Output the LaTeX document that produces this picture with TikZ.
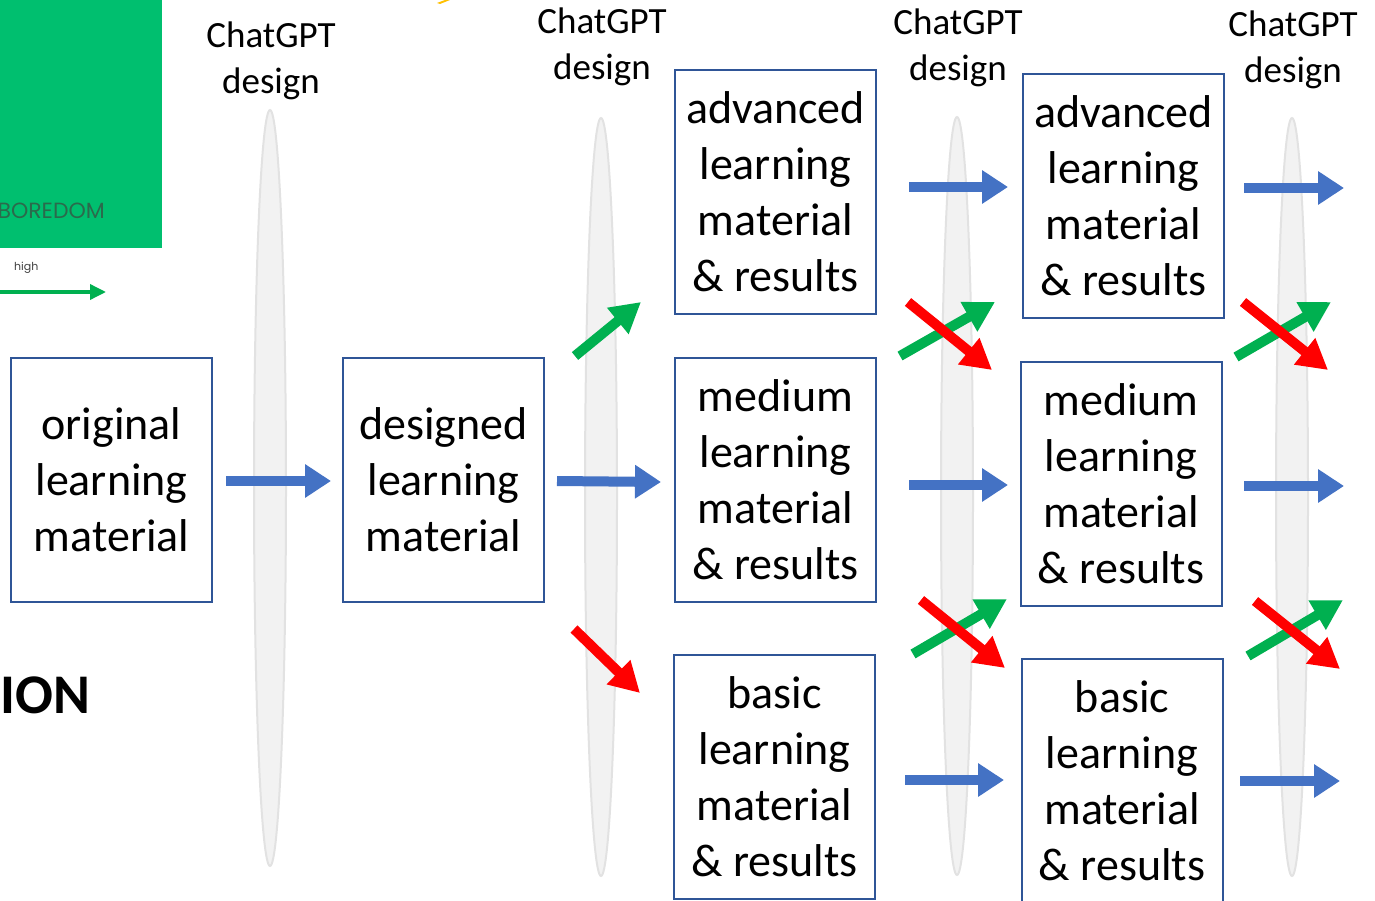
\documentclass[tikz,border=0pt]{standalone}
\usepackage{fontspec}
\setmainfont{Carlito}
\newfontfamily\popfont{Poppins}
\usetikzlibrary{arrows.meta}
\definecolor{boxblue}{HTML}{2F5597}
\definecolor{arrblue}{HTML}{4472C4}
\definecolor{arrgreen}{HTML}{00B050}
\definecolor{arrred}{HTML}{FF0000}
\definecolor{panelgreen}{HTML}{00BF6F}
\definecolor{boredtext}{HTML}{2B6A4C}
\definecolor{ellfill}{HTML}{F2F2F2}
\definecolor{elldraw}{HTML}{E2E2E2}
\definecolor{yel}{HTML}{FFC000}
\tikzset{
  matbox/.style={draw=boxblue, line width=2pt, minimum width=201pt, minimum height=244pt, inner sep=0pt, align=center, font=\fontsize{46}{56}\selectfont},
  gptlabel/.style={align=center, font=\fontsize{37}{46}\selectfont, inner sep=0pt},
  lens/.style={fill=ellfill, draw=elldraw, line width=2pt},
  barrow/.style={draw=arrblue, line width=10pt, -{Triangle[length=26pt,width=32pt]}},
  garrow/.style={draw=arrgreen, line width=10pt, -{Triangle[length=30pt,width=32pt]}},
  rarrow/.style={draw=arrred, line width=10pt, -{Triangle[length=30pt,width=32pt]}},
}
\begin{document}
\begin{tikzpicture}[x=1pt,y=-1pt]
\useasboundingbox (0,0) rectangle (1375,901);
% left fragment
\fill[panelgreen] (0,0) rectangle (162,248);
\node[anchor=east, inner sep=0pt, text=boredtext, font=\popfont\fontsize{22}{24}\selectfont] (bored) at (105,211) {BOREDOM};
\node[anchor=west, inner sep=0pt, text=black!75, font=\popfont\fontsize{11}{13}\selectfont] (high) at (14,268) {high};
\coordinate (hs) at (0,292);
\coordinate (he) at (106,292);
\draw[draw=arrgreen, line width=3.5pt, -{Triangle[length=16pt,width=15pt]}] (hs) -- (he);
\node[anchor=west, inner sep=0pt, font=\bfseries\fontsize{56}{60}\selectfont] (ion) at (0,695) {ION};
\fill[yel] (437,3) -- (445,0) -- (450,0) -- (440,4) -- cycle;

% lenses
\draw[lens] (270,488) ellipse (16 and 378);
\draw[lens] (601,497) ellipse (16 and 379);
\draw[lens] (957,496) ellipse (16 and 379);
\draw[lens] (1292,497) ellipse (16 and 379);

% labels
\node[gptlabel] (g1) at (271,61) {ChatGPT\\design};
\node[gptlabel] (g2) at (602,47) {ChatGPT\\design};
\node[gptlabel] (g3) at (958,48) {ChatGPT\\design};
\node[gptlabel] (g4) at (1293,50) {ChatGPT\\design};

% boxes
\node[matbox] (orig) at (111.5,480) {original\\learning\\material};
\node[matbox] (des) at (443.5,480) {designed\\learning\\material};
\node[matbox] (adv1) at (775.5,192) {advanced\\learning\\material\\\&~results};
\node[matbox] (med1) at (775.5,480) {medium\\learning\\material\\\&~results};
\node[matbox] (bas1) at (774.5,776.5) {basic\\learning\\material\\\&~results};
\node[matbox] (adv2) at (1123.5,196) {advanced\\learning\\material\\\&~results};
\node[matbox] (med2) at (1121,484) {medium\\learning\\material\\\&~results};
\node[matbox] (bas2) at (1122,781) {basic\\learning\\material\\\&~results};

% blue arrows
\coordinate (b1s) at (226,481); \coordinate (b1e) at (331,481);
\coordinate (b2s) at (557,481); \coordinate (b2e) at (661,482);
\coordinate (b3s) at (909,187); \coordinate (b3e) at (1008,187);
\coordinate (b4s) at (909,485); \coordinate (b4e) at (1008,485);
\coordinate (b5s) at (905,780); \coordinate (b5e) at (1004,780);
\coordinate (b6s) at (1244,188); \coordinate (b6e) at (1344,188);
\coordinate (b7s) at (1244,486); \coordinate (b7e) at (1344,486);
\coordinate (b8s) at (1240,781); \coordinate (b8e) at (1340,781);
\foreach \i in {1,...,8} {\draw[barrow] (b\i s) -- (b\i e);}

% green arrows
\coordinate (g1s) at (575,356); \coordinate (g1e) at (641,302);
\coordinate (g2s) at (900,356); \coordinate (g2e) at (995,302);
\coordinate (g3s) at (1236,357); \coordinate (g3e) at (1331,302);
\coordinate (g4s) at (913,654); \coordinate (g4e) at (1007,599);
\coordinate (g5s) at (1248,656); \coordinate (g5e) at (1343,600);
\foreach \i in {1,...,5} {\draw[garrow] (g\i s) -- (g\i e);}

% red arrows
\coordinate (r1s) at (574,629); \coordinate (r1e) at (640,693);
\coordinate (r2s) at (908,302); \coordinate (r2e) at (992,370);
\coordinate (r3s) at (1243,302); \coordinate (r3e) at (1328,370);
\coordinate (r4s) at (921,600); \coordinate (r4e) at (1005,668);
\coordinate (r5s) at (1255,601); \coordinate (r5e) at (1340,669);
\foreach \i in {1,...,5} {\draw[rarrow] (r\i s) -- (r\i e);}
\end{tikzpicture}
\end{document}
